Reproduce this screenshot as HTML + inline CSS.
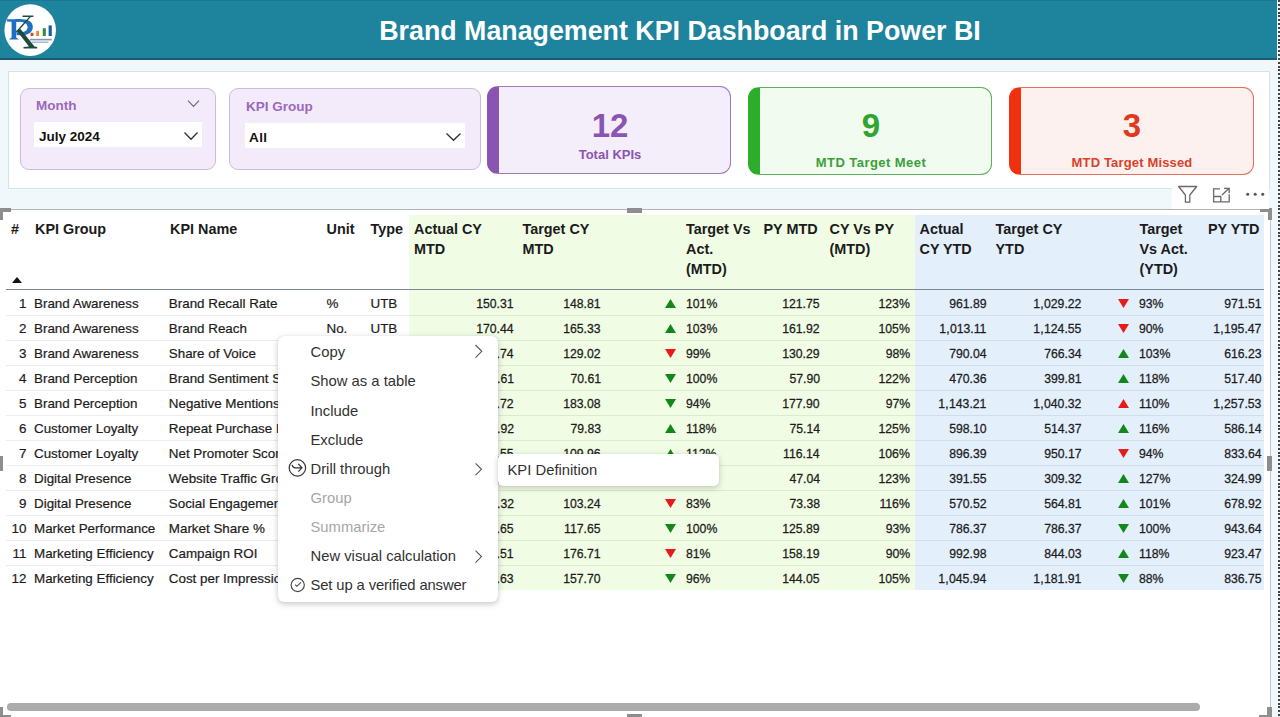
<!DOCTYPE html>
<html><head><meta charset="utf-8">
<style>
*{box-sizing:border-box;margin:0;padding:0}
html,body{width:1280px;height:717px;overflow:hidden}
body{position:relative;background:#F0F8FB;font-family:"Liberation Sans",sans-serif;color:#252423}
.a{position:absolute}
#hdr{left:0;top:0;width:1277px;height:58px;background:#1E839D;border-top:1px solid #1A7891}
#hdrline{left:0;top:58px;width:1277px;height:2px;background:#1F5676}
#title{left:0;top:1px;width:1360px;height:58px;line-height:60px;text-align:center;color:#fff;font-weight:bold;font-size:26.8px;white-space:nowrap}
#logo{left:4px;top:4px;width:52px;height:52px;border-radius:50%;background:#fff;overflow:hidden}
#dots{left:1278px;top:0;width:2px;height:717px;background:repeating-linear-gradient(to bottom,#444 0 2px,transparent 2px 3.86px)}
#panel{left:8px;top:71px;width:1262px;height:118px;background:#fff;border:1px solid #D2E4E8}
.slicer{background:#F3EBF9;border:1px solid #CDB9DA;border-radius:9px}
.slab{font-weight:bold;font-size:13.5px;color:#9A68BC}
.sbox{background:#fff}
.sval{font-weight:bold;font-size:13.5px;color:#111}
.card{border-radius:11px;overflow:hidden}
.num{font-weight:bold;font-size:33px;text-align:center;line-height:1}
.clab{font-weight:bold;font-size:13px;text-align:center;white-space:nowrap}

#vis{left:0;top:209px;width:1271px;height:508px;background:#fff;border-top:1px solid #B4B4B4;border-right:1px solid #BCC8CE}
.gbg{background:#F0FCE4}
.bbg{background:#E3EFFB}
.th{font-weight:bold;font-size:14.4px;line-height:20px;color:#1B1B1B;white-space:nowrap}
.t{font-size:13.4px;line-height:25px;color:#1d1c1b;white-space:nowrap;-webkit-text-stroke:0.2px #1d1c1b}
.t.n{font-size:13.6px}
.t.n{letter-spacing:0;transform:scaleX(.9);transform-origin:0 50%;-webkit-text-stroke:0.28px #1d1c1b}
.t.r.n{transform-origin:100% 50%;margin-right:-1px}
.cm{margin:0 0.3px 0 0.2px}
.sep{left:6px;width:1258px;height:1px;background:rgba(0,0,0,.075)}
#hline{left:6px;top:289px;width:1258px;height:1px;background:#7D8695}
.hnd{background:#8E8E8E}
#menu{left:278px;top:336px;width:220px;height:266px;background:#fff;border-radius:6px;box-shadow:0 2px 6px rgba(0,0,0,.22),0 0 1px rgba(0,0,0,.15)}
#sub{left:498px;top:454px;width:221px;height:32px;background:#fff;border-radius:5px;box-shadow:0 2px 6px rgba(0,0,0,.2),0 0 1px rgba(0,0,0,.15)}
.mi{font-size:14.8px;color:#323130;white-space:nowrap;line-height:18px}
.mi.dis{color:#A6A6A6}
</style></head><body>
<div class="a" id="hdr"></div>
<div class="a" id="hdrline"></div>
<div class="a" id="title">Brand Management KPI Dashboard in Power BI</div>
<svg class="a" style="left:0;top:0" width="60" height="60" viewBox="0 0 60 60">
<circle cx="30.2" cy="30.1" r="25.8" fill="#fff"/>
<path d="M7 19.2 L20 19.2 L20 21.4 L16.2 21.8 L16.2 37.6 L19 39.4 L9 39.4 L11.6 37.6 L11.6 21.8 L7 21.4Z" fill="#1F6FC0"/>
<path d="M15 19.2 C27 18.4 33.2 21 32.8 27.4 C32.3 34 25 36 16.5 35 L16.5 32.3 C22.5 32.8 27.6 31.5 27.6 27.2 C27.6 22.8 22.8 21.5 15 21.9Z" fill="#1F6FC0"/>
<path d="M22.5 15.5 L33.5 15.5 L33.5 16.8 L30.5 17.3 L17 32.5 L15.8 31.8 L29 17 L22.5 16.9Z" fill="#1E4B3A"/>
<path d="M16.5 30.5 L20.5 29 L34.5 46.4 L37.2 47 L37.2 48.6 L23.5 48.6 L23.5 47 L29 46.6Z" fill="#1E4B3A"/>
<rect x="30.6" y="32.8" width="2.8" height="3.2" fill="#E03A2A"/>
<rect x="36.2" y="30.9" width="2.8" height="5.1" fill="#E88A2A"/>
<rect x="42.8" y="28.2" width="3" height="7.8" fill="#2E8B3E"/>
<rect x="48.6" y="25.4" width="3.2" height="10.6" fill="#1F5E9A"/>
<rect x="29.8" y="38.8" width="22" height="1.6" fill="#2d3d5a" opacity=".55"/>
<rect x="31.5" y="41.6" width="17" height="1.2" fill="#2a7ab8" opacity=".6"/>
</svg>
<div class="a" id="dots"></div>
<div class="a" id="panel"></div>

<!-- slicer month -->
<div class="a slicer" style="left:20px;top:88px;width:196px;height:82px"></div>
<div class="a slab" style="left:36px;top:98px">Month</div>
<div class="a sbox" style="left:34px;top:122px;width:168px;height:25px"></div>
<div class="a sval" style="left:39px;top:129px">July 2024</div>
<!-- slicer kpi group -->
<div class="a slicer" style="left:229px;top:88px;width:252px;height:82px"></div>
<div class="a slab" style="left:246px;top:98.7px">KPI Group</div>
<div class="a sbox" style="left:245px;top:123px;width:220px;height:25px"></div>
<div class="a sval" style="left:249px;top:130px;letter-spacing:0.4px">All</div>

<svg class="a" style="left:186px;top:99px" width="15" height="9" viewBox="0 0 15 9"><path d="M2 1.6 L7.5 7.4 L13 1.6" fill="none" stroke="#6b6b6b" stroke-width="1.1"/></svg>
<svg class="a" style="left:183px;top:131px" width="16" height="10" viewBox="0 0 16 10"><path d="M1.5 1.5 L8 8.3 L14.5 1.5" fill="none" stroke="#333" stroke-width="1.3"/></svg>
<svg class="a" style="left:445px;top:131.5px" width="17" height="10" viewBox="0 0 17 10"><path d="M1.5 1.5 L8.5 8.3 L15.5 1.5" fill="none" stroke="#333" stroke-width="1.3"/></svg>
<!-- cards -->
<div class="a card" style="left:487px;top:86px;width:244px;height:88px;background:#F4EDFA;border:1px solid #9C7BB4;border-left:12px solid #8A55B2"></div>
<div class="a num" style="left:487px;top:109px;width:246px;color:#8A55B2">12</div>
<div class="a clab" style="left:487px;top:147px;width:246px;color:#8A55B2">Total KPIs</div>

<div class="a card" style="left:748px;top:87px;width:244px;height:88px;background:#F1FBEF;border:1px solid #5FB05C;border-left:12px solid #2CAE2A"></div>
<div class="a num" style="left:748px;top:109px;width:246px;color:#2EA52C">9</div>
<div class="a clab" style="left:748px;top:155px;width:246px;color:#3BA03A;letter-spacing:.45px">MTD Target Meet</div>

<div class="a card" style="left:1009px;top:87px;width:245px;height:88px;background:#FDF1EF;border:1px solid #E0705C;border-left:12px solid #F0300E"></div>
<div class="a num" style="left:1009px;top:109px;width:246px;color:#E03A1C">3</div>
<div class="a clab" style="left:1009px;top:155px;width:246px;color:#D9412A;letter-spacing:.15px">MTD Target Missed</div>


<!-- visual -->
<div class="a" id="vis"></div>
<div class="a gbg" style="left:409px;top:215px;width:506px;height:375px"></div>
<div class="a bbg" style="left:915px;top:215px;width:349px;height:375px"></div>
<div class="a" id="hline"></div>
<div class="a th" style="left:11px;top:218.5px">#</div>
<div class="a th" style="left:35px;top:218.5px">KPI Group</div>
<div class="a th" style="left:170px;top:218.5px">KPI Name</div>
<div class="a th" style="left:326.5px;top:218.5px">Unit</div>
<div class="a th" style="left:370.5px;top:218.5px">Type</div>
<div class="a th" style="left:414px;top:218.5px">Actual CY<br>MTD</div>
<div class="a th" style="left:522.5px;top:218.5px">Target CY<br>MTD</div>
<div class="a th" style="left:686px;top:218.5px">Target Vs<br>Act.<br>(MTD)</div>
<div class="a th" style="left:763.5px;top:218.5px">PY MTD</div>
<div class="a th" style="left:829.5px;top:218.5px">CY Vs PY<br>(MTD)</div>
<div class="a th" style="left:919.5px;top:218.5px">Actual<br>CY YTD</div>
<div class="a th" style="left:995.5px;top:218.5px">Target CY<br>YTD</div>
<div class="a th" style="left:1139.5px;top:218.5px">Target<br>Vs Act.<br>(YTD)</div>
<div class="a th" style="left:1208px;top:218.5px">PY YTD</div>
<svg class="a" style="left:12px;top:277px" width="10" height="6" viewBox="0 0 10 6"><polygon points="0,6 5,0 10,6" fill="#111"/></svg>
<div class="a t r " style="right:1253.5px;top:290.7px">1</div>
<div class="a t " style="left:34px;top:290.7px">Brand Awareness</div>
<div class="a t " style="left:168.8px;top:290.7px">Brand Recall Rate</div>
<div class="a t " style="left:326.5px;top:290.7px">%</div>
<div class="a t " style="left:370.5px;top:290.7px">UTB</div>
<div class="a t r n" style="right:767px;top:290.7px">150.31</div>
<div class="a t r n" style="right:680px;top:290.7px">148.81</div>
<svg class="a" style="left:664.5px;top:299px" width="11" height="9" viewBox="0 0 11 9"><polygon points="0,9 5.5,0 11,9" fill="#13881A"/></svg>
<div class="a t n" style="left:686px;top:290.7px">101%</div>
<div class="a t r n" style="right:461px;top:290.7px">121.75</div>
<div class="a t r n" style="right:371px;top:290.7px">123%</div>
<div class="a t r n" style="right:294.5px;top:290.7px">961.89</div>
<div class="a t r n" style="right:199.5px;top:290.7px">1<span class="cm">,</span>029.22</div>
<svg class="a" style="left:1118.2px;top:299px" width="11" height="9" viewBox="0 0 11 9"><polygon points="0,0 11,0 5.5,9" fill="#E81B1B"/></svg>
<div class="a t n" style="left:1139px;top:290.7px">93%</div>
<div class="a t r n" style="right:19.5px;top:290.7px">971.51</div>
<div class="a sep" style="top:315px"></div>
<div class="a t r " style="right:1253.5px;top:315.7px">2</div>
<div class="a t " style="left:34px;top:315.7px">Brand Awareness</div>
<div class="a t " style="left:168.8px;top:315.7px">Brand Reach</div>
<div class="a t " style="left:326.5px;top:315.7px">No.</div>
<div class="a t " style="left:370.5px;top:315.7px">UTB</div>
<div class="a t r n" style="right:767px;top:315.7px">170.44</div>
<div class="a t r n" style="right:680px;top:315.7px">165.33</div>
<svg class="a" style="left:664.5px;top:324px" width="11" height="9" viewBox="0 0 11 9"><polygon points="0,9 5.5,0 11,9" fill="#13881A"/></svg>
<div class="a t n" style="left:686px;top:315.7px">103%</div>
<div class="a t r n" style="right:461px;top:315.7px">161.92</div>
<div class="a t r n" style="right:371px;top:315.7px">105%</div>
<div class="a t r n" style="right:294.5px;top:315.7px">1<span class="cm">,</span>013.11</div>
<div class="a t r n" style="right:199.5px;top:315.7px">1<span class="cm">,</span>124.55</div>
<svg class="a" style="left:1118.2px;top:324px" width="11" height="9" viewBox="0 0 11 9"><polygon points="0,0 11,0 5.5,9" fill="#E81B1B"/></svg>
<div class="a t n" style="left:1139px;top:315.7px">90%</div>
<div class="a t r n" style="right:19.5px;top:315.7px">1<span class="cm">,</span>195.47</div>
<div class="a sep" style="top:340px"></div>
<div class="a t r " style="right:1253.5px;top:340.7px">3</div>
<div class="a t " style="left:34px;top:340.7px">Brand Awareness</div>
<div class="a t " style="left:168.8px;top:340.7px">Share of Voice</div>
<div class="a t " style="left:326.5px;top:340.7px">%</div>
<div class="a t " style="left:370.5px;top:340.7px">UTB</div>
<div class="a t r n" style="right:767px;top:340.7px">127.74</div>
<div class="a t r n" style="right:680px;top:340.7px">129.02</div>
<svg class="a" style="left:664.5px;top:349px" width="11" height="9" viewBox="0 0 11 9"><polygon points="0,0 11,0 5.5,9" fill="#E81B1B"/></svg>
<div class="a t n" style="left:686px;top:340.7px">99%</div>
<div class="a t r n" style="right:461px;top:340.7px">130.29</div>
<div class="a t r n" style="right:371px;top:340.7px">98%</div>
<div class="a t r n" style="right:294.5px;top:340.7px">790.04</div>
<div class="a t r n" style="right:199.5px;top:340.7px">766.34</div>
<svg class="a" style="left:1118.2px;top:349px" width="11" height="9" viewBox="0 0 11 9"><polygon points="0,9 5.5,0 11,9" fill="#13881A"/></svg>
<div class="a t n" style="left:1139px;top:340.7px">103%</div>
<div class="a t r n" style="right:19.5px;top:340.7px">616.23</div>
<div class="a sep" style="top:365px"></div>
<div class="a t r " style="right:1253.5px;top:365.7px">4</div>
<div class="a t " style="left:34px;top:365.7px">Brand Perception</div>
<div class="a t " style="left:168.8px;top:365.7px">Brand Sentiment Score</div>
<div class="a t " style="left:326.5px;top:365.7px">%</div>
<div class="a t " style="left:370.5px;top:365.7px">UTB</div>
<div class="a t r n" style="right:767px;top:365.7px">70.61</div>
<div class="a t r n" style="right:680px;top:365.7px">70.61</div>
<svg class="a" style="left:664.5px;top:374px" width="11" height="9" viewBox="0 0 11 9"><polygon points="0,0 11,0 5.5,9" fill="#13881A"/></svg>
<div class="a t n" style="left:686px;top:365.7px">100%</div>
<div class="a t r n" style="right:461px;top:365.7px">57.90</div>
<div class="a t r n" style="right:371px;top:365.7px">122%</div>
<div class="a t r n" style="right:294.5px;top:365.7px">470.36</div>
<div class="a t r n" style="right:199.5px;top:365.7px">399.81</div>
<svg class="a" style="left:1118.2px;top:374px" width="11" height="9" viewBox="0 0 11 9"><polygon points="0,9 5.5,0 11,9" fill="#13881A"/></svg>
<div class="a t n" style="left:1139px;top:365.7px">118%</div>
<div class="a t r n" style="right:19.5px;top:365.7px">517.40</div>
<div class="a sep" style="top:390px"></div>
<div class="a t r " style="right:1253.5px;top:390.7px">5</div>
<div class="a t " style="left:34px;top:390.7px">Brand Perception</div>
<div class="a t " style="left:168.8px;top:390.7px">Negative Mentions</div>
<div class="a t " style="left:326.5px;top:390.7px">No.</div>
<div class="a t " style="left:370.5px;top:390.7px">LTB</div>
<div class="a t r n" style="right:767px;top:390.7px">172.72</div>
<div class="a t r n" style="right:680px;top:390.7px">183.08</div>
<svg class="a" style="left:664.5px;top:399px" width="11" height="9" viewBox="0 0 11 9"><polygon points="0,0 11,0 5.5,9" fill="#13881A"/></svg>
<div class="a t n" style="left:686px;top:390.7px">94%</div>
<div class="a t r n" style="right:461px;top:390.7px">177.90</div>
<div class="a t r n" style="right:371px;top:390.7px">97%</div>
<div class="a t r n" style="right:294.5px;top:390.7px">1<span class="cm">,</span>143.21</div>
<div class="a t r n" style="right:199.5px;top:390.7px">1<span class="cm">,</span>040.32</div>
<svg class="a" style="left:1118.2px;top:399px" width="11" height="9" viewBox="0 0 11 9"><polygon points="0,9 5.5,0 11,9" fill="#E81B1B"/></svg>
<div class="a t n" style="left:1139px;top:390.7px">110%</div>
<div class="a t r n" style="right:19.5px;top:390.7px">1<span class="cm">,</span>257.53</div>
<div class="a sep" style="top:415px"></div>
<div class="a t r " style="right:1253.5px;top:415.7px">6</div>
<div class="a t " style="left:34px;top:415.7px">Customer Loyalty</div>
<div class="a t " style="left:168.8px;top:415.7px">Repeat Purchase Rate</div>
<div class="a t " style="left:326.5px;top:415.7px">%</div>
<div class="a t " style="left:370.5px;top:415.7px">UTB</div>
<div class="a t r n" style="right:767px;top:415.7px">94.92</div>
<div class="a t r n" style="right:680px;top:415.7px">79.83</div>
<svg class="a" style="left:664.5px;top:424px" width="11" height="9" viewBox="0 0 11 9"><polygon points="0,9 5.5,0 11,9" fill="#13881A"/></svg>
<div class="a t n" style="left:686px;top:415.7px">118%</div>
<div class="a t r n" style="right:461px;top:415.7px">75.14</div>
<div class="a t r n" style="right:371px;top:415.7px">125%</div>
<div class="a t r n" style="right:294.5px;top:415.7px">598.10</div>
<div class="a t r n" style="right:199.5px;top:415.7px">514.37</div>
<svg class="a" style="left:1118.2px;top:424px" width="11" height="9" viewBox="0 0 11 9"><polygon points="0,9 5.5,0 11,9" fill="#13881A"/></svg>
<div class="a t n" style="left:1139px;top:415.7px">116%</div>
<div class="a t r n" style="right:19.5px;top:415.7px">586.14</div>
<div class="a sep" style="top:440px"></div>
<div class="a t r " style="right:1253.5px;top:440.7px">7</div>
<div class="a t " style="left:34px;top:440.7px">Customer Loyalty</div>
<div class="a t " style="left:168.8px;top:440.7px">Net Promoter Score</div>
<div class="a t " style="left:326.5px;top:440.7px">No.</div>
<div class="a t " style="left:370.5px;top:440.7px">UTB</div>
<div class="a t r n" style="right:767px;top:440.7px">123.55</div>
<div class="a t r n" style="right:680px;top:440.7px">109.96</div>
<svg class="a" style="left:664.5px;top:449px" width="11" height="9" viewBox="0 0 11 9"><polygon points="0,9 5.5,0 11,9" fill="#13881A"/></svg>
<div class="a t n" style="left:686px;top:440.7px">112%</div>
<div class="a t r n" style="right:461px;top:440.7px">116.14</div>
<div class="a t r n" style="right:371px;top:440.7px">106%</div>
<div class="a t r n" style="right:294.5px;top:440.7px">896.39</div>
<div class="a t r n" style="right:199.5px;top:440.7px">950.17</div>
<svg class="a" style="left:1118.2px;top:449px" width="11" height="9" viewBox="0 0 11 9"><polygon points="0,0 11,0 5.5,9" fill="#E81B1B"/></svg>
<div class="a t n" style="left:1139px;top:440.7px">94%</div>
<div class="a t r n" style="right:19.5px;top:440.7px">833.64</div>
<div class="a sep" style="top:465px"></div>
<div class="a t r " style="right:1253.5px;top:465.7px">8</div>
<div class="a t " style="left:34px;top:465.7px">Digital Presence</div>
<div class="a t " style="left:168.8px;top:465.7px">Website Traffic Growth</div>
<div class="a t " style="left:326.5px;top:465.7px">%</div>
<div class="a t " style="left:370.5px;top:465.7px">UTB</div>
<div class="a t r n" style="right:767px;top:465.7px">58.04</div>
<div class="a t r n" style="right:680px;top:465.7px">50.11</div>
<svg class="a" style="left:664.5px;top:474px" width="11" height="9" viewBox="0 0 11 9"><polygon points="0,9 5.5,0 11,9" fill="#13881A"/></svg>
<div class="a t n" style="left:686px;top:465.7px">116%</div>
<div class="a t r n" style="right:461px;top:465.7px">47.04</div>
<div class="a t r n" style="right:371px;top:465.7px">123%</div>
<div class="a t r n" style="right:294.5px;top:465.7px">391.55</div>
<div class="a t r n" style="right:199.5px;top:465.7px">309.32</div>
<svg class="a" style="left:1118.2px;top:474px" width="11" height="9" viewBox="0 0 11 9"><polygon points="0,9 5.5,0 11,9" fill="#13881A"/></svg>
<div class="a t n" style="left:1139px;top:465.7px">127%</div>
<div class="a t r n" style="right:19.5px;top:465.7px">324.99</div>
<div class="a sep" style="top:490px"></div>
<div class="a t r " style="right:1253.5px;top:490.7px">9</div>
<div class="a t " style="left:34px;top:490.7px">Digital Presence</div>
<div class="a t " style="left:168.8px;top:490.7px">Social Engagement</div>
<div class="a t " style="left:326.5px;top:490.7px">%</div>
<div class="a t " style="left:370.5px;top:490.7px">UTB</div>
<div class="a t r n" style="right:767px;top:490.7px">85.32</div>
<div class="a t r n" style="right:680px;top:490.7px">103.24</div>
<svg class="a" style="left:664.5px;top:499px" width="11" height="9" viewBox="0 0 11 9"><polygon points="0,0 11,0 5.5,9" fill="#E81B1B"/></svg>
<div class="a t n" style="left:686px;top:490.7px">83%</div>
<div class="a t r n" style="right:461px;top:490.7px">73.38</div>
<div class="a t r n" style="right:371px;top:490.7px">116%</div>
<div class="a t r n" style="right:294.5px;top:490.7px">570.52</div>
<div class="a t r n" style="right:199.5px;top:490.7px">564.81</div>
<svg class="a" style="left:1118.2px;top:499px" width="11" height="9" viewBox="0 0 11 9"><polygon points="0,9 5.5,0 11,9" fill="#13881A"/></svg>
<div class="a t n" style="left:1139px;top:490.7px">101%</div>
<div class="a t r n" style="right:19.5px;top:490.7px">678.92</div>
<div class="a sep" style="top:515px"></div>
<div class="a t r " style="right:1253.5px;top:515.7px">10</div>
<div class="a t " style="left:34px;top:515.7px">Market Performance</div>
<div class="a t " style="left:168.8px;top:515.7px">Market Share %</div>
<div class="a t " style="left:326.5px;top:515.7px">%</div>
<div class="a t " style="left:370.5px;top:515.7px">UTB</div>
<div class="a t r n" style="right:767px;top:515.7px">117.65</div>
<div class="a t r n" style="right:680px;top:515.7px">117.65</div>
<svg class="a" style="left:664.5px;top:524px" width="11" height="9" viewBox="0 0 11 9"><polygon points="0,0 11,0 5.5,9" fill="#13881A"/></svg>
<div class="a t n" style="left:686px;top:515.7px">100%</div>
<div class="a t r n" style="right:461px;top:515.7px">125.89</div>
<div class="a t r n" style="right:371px;top:515.7px">93%</div>
<div class="a t r n" style="right:294.5px;top:515.7px">786.37</div>
<div class="a t r n" style="right:199.5px;top:515.7px">786.37</div>
<svg class="a" style="left:1118.2px;top:524px" width="11" height="9" viewBox="0 0 11 9"><polygon points="0,0 11,0 5.5,9" fill="#13881A"/></svg>
<div class="a t n" style="left:1139px;top:515.7px">100%</div>
<div class="a t r n" style="right:19.5px;top:515.7px">943.64</div>
<div class="a sep" style="top:540px"></div>
<div class="a t r " style="right:1253.5px;top:540.7px">11</div>
<div class="a t " style="left:34px;top:540.7px">Marketing Efficiency</div>
<div class="a t " style="left:168.8px;top:540.7px">Campaign ROI</div>
<div class="a t " style="left:326.5px;top:540.7px">%</div>
<div class="a t " style="left:370.5px;top:540.7px">UTB</div>
<div class="a t r n" style="right:767px;top:540.7px">143.51</div>
<div class="a t r n" style="right:680px;top:540.7px">176.71</div>
<svg class="a" style="left:664.5px;top:549px" width="11" height="9" viewBox="0 0 11 9"><polygon points="0,0 11,0 5.5,9" fill="#E81B1B"/></svg>
<div class="a t n" style="left:686px;top:540.7px">81%</div>
<div class="a t r n" style="right:461px;top:540.7px">158.19</div>
<div class="a t r n" style="right:371px;top:540.7px">90%</div>
<div class="a t r n" style="right:294.5px;top:540.7px">992.98</div>
<div class="a t r n" style="right:199.5px;top:540.7px">844.03</div>
<svg class="a" style="left:1118.2px;top:549px" width="11" height="9" viewBox="0 0 11 9"><polygon points="0,9 5.5,0 11,9" fill="#13881A"/></svg>
<div class="a t n" style="left:1139px;top:540.7px">118%</div>
<div class="a t r n" style="right:19.5px;top:540.7px">923.47</div>
<div class="a sep" style="top:565px"></div>
<div class="a t r " style="right:1253.5px;top:565.7px">12</div>
<div class="a t " style="left:34px;top:565.7px">Marketing Efficiency</div>
<div class="a t " style="left:168.8px;top:565.7px">Cost per Impression</div>
<div class="a t " style="left:326.5px;top:565.7px">No.</div>
<div class="a t " style="left:370.5px;top:565.7px">LTB</div>
<div class="a t r n" style="right:767px;top:565.7px">151.63</div>
<div class="a t r n" style="right:680px;top:565.7px">157.70</div>
<svg class="a" style="left:664.5px;top:574px" width="11" height="9" viewBox="0 0 11 9"><polygon points="0,0 11,0 5.5,9" fill="#13881A"/></svg>
<div class="a t n" style="left:686px;top:565.7px">96%</div>
<div class="a t r n" style="right:461px;top:565.7px">144.05</div>
<div class="a t r n" style="right:371px;top:565.7px">105%</div>
<div class="a t r n" style="right:294.5px;top:565.7px">1<span class="cm">,</span>045.94</div>
<div class="a t r n" style="right:199.5px;top:565.7px">1<span class="cm">,</span>181.91</div>
<svg class="a" style="left:1118.2px;top:574px" width="11" height="9" viewBox="0 0 11 9"><polygon points="0,0 11,0 5.5,9" fill="#13881A"/></svg>
<div class="a t n" style="left:1139px;top:565.7px">88%</div>
<div class="a t r n" style="right:19.5px;top:565.7px">836.75</div>
<!-- handles -->
<div class="a hnd" style="left:0;top:208px;width:11px;height:4px"></div>
<div class="a hnd" style="left:0;top:208px;width:3px;height:12px"></div>
<div class="a hnd" style="left:1260px;top:208px;width:12px;height:4px"></div>
<div class="a hnd" style="left:1268px;top:208px;width:4px;height:12px"></div>
<div class="a hnd" style="left:627px;top:208px;width:15px;height:5px"></div>
<div class="a hnd" style="left:0;top:456px;width:3px;height:15px"></div>
<div class="a hnd" style="left:1267px;top:456px;width:5px;height:15px"></div>
<div class="a hnd" style="left:0;top:707px;width:3px;height:10px"></div>
<div class="a hnd" style="left:0;top:715px;width:11px;height:2px"></div>
<div class="a hnd" style="left:1267px;top:707px;width:5px;height:10px"></div>
<div class="a hnd" style="left:1259px;top:715px;width:12px;height:2px"></div>
<div class="a hnd" style="left:627px;top:714px;width:15px;height:3px"></div>
<!-- scrollbar -->
<div class="a" style="left:7px;top:703px;width:1193px;height:8px;border-radius:4px;background:#ABABAB"></div>
<!-- visual header icons -->
<div class="a" style="left:1172px;top:188px;width:97px;height:21px;background:#fff"></div>
<svg class="a" style="left:1176px;top:184px" width="24" height="21" viewBox="0 0 24 21"><path d="M2.6 2.5 L20.7 2.5 L13.8 11 L13.8 18.2 L9.4 18.2 L9.4 11 Z" fill="none" stroke="#6a6a6a" stroke-width="1.3" stroke-linejoin="round"/></svg>
<svg class="a" style="left:1211px;top:186px" width="21" height="19" viewBox="0 0 21 19"><path d="M9 2.9 L2.6 2.9 L2.6 15.8 L18.2 15.8 L18.2 8.2 M2.6 10.5 L9.8 10.5 L9.8 15.8 M11 9 L18 2.3 M13 2.3 L18.2 2.3 L18.2 7" fill="none" stroke="#6a6a6a" stroke-width="1.3"/></svg>
<svg class="a" style="left:1244px;top:191px" width="22" height="7" viewBox="0 0 22 7"><circle cx="3.7" cy="3.3" r="1.5" fill="#555"/><circle cx="11.2" cy="3.3" r="1.5" fill="#555"/><circle cx="18.7" cy="3.3" r="1.5" fill="#555"/></svg>
<!-- menu -->
<div class="a" id="menu"></div>
<div class="a" id="sub"></div>
<div class="a mi" style="left:310.5px;top:343.27px">Copy</div>
<div class="a mi" style="left:310.5px;top:372.39px">Show as a table</div>
<div class="a mi" style="left:310.5px;top:401.51px">Include</div>
<div class="a mi" style="left:310.5px;top:430.63px">Exclude</div>
<div class="a mi" style="left:310.5px;top:459.75px">Drill through</div>
<div class="a mi dis" style="left:310.5px;top:488.87px">Group</div>
<div class="a mi dis" style="left:310.5px;top:517.99px">Summarize</div>
<div class="a mi" style="left:310.5px;top:547.11px">New visual calculation</div>
<div class="a mi" style="left:310.5px;top:576.23px;letter-spacing:-0.12px">Set up a verified answer</div>
<div class="a mi" style="left:507.5px;top:461.17px">KPI Definition</div>
<svg class="a" style="left:472px;top:343px" width="12" height="17" viewBox="0 0 12 17"><path d="M3.5 2 L9.8 8.3 L3.5 14.6" fill="none" stroke="#555" stroke-width="1.1"/></svg>
<svg class="a" style="left:472px;top:461px" width="12" height="17" viewBox="0 0 12 17"><path d="M3.5 2.4 L9.5 8.3 L3.5 14.2" fill="none" stroke="#555" stroke-width="1.1"/></svg>
<svg class="a" style="left:472px;top:548px" width="12" height="17" viewBox="0 0 12 17"><path d="M3.5 2.6 L9.5 8.6 L3.5 14.6" fill="none" stroke="#555" stroke-width="1.1"/></svg>
<svg class="a" style="left:287px;top:459px" width="21" height="20" viewBox="0 0 21 20"><circle cx="10.4" cy="8.9" r="8.2" fill="none" stroke="#333" stroke-width="1.2"/><path d="M5.1 5.9 Q5.8 8.8 8.2 8.8 L14.8 8.8 M11.3 4.9 L15 8.8 L11.3 12.7" fill="none" stroke="#333" stroke-width="1.2"/></svg>
<svg class="a" style="left:289px;top:576px" width="18" height="18" viewBox="0 0 18 18"><circle cx="8.7" cy="9" r="6.6" fill="none" stroke="#444" stroke-width="1.15"/><path d="M6.2 8.6 L7.9 10.3 L12 6.3" fill="none" stroke="#444" stroke-width="1.1"/></svg>
</body></html>
